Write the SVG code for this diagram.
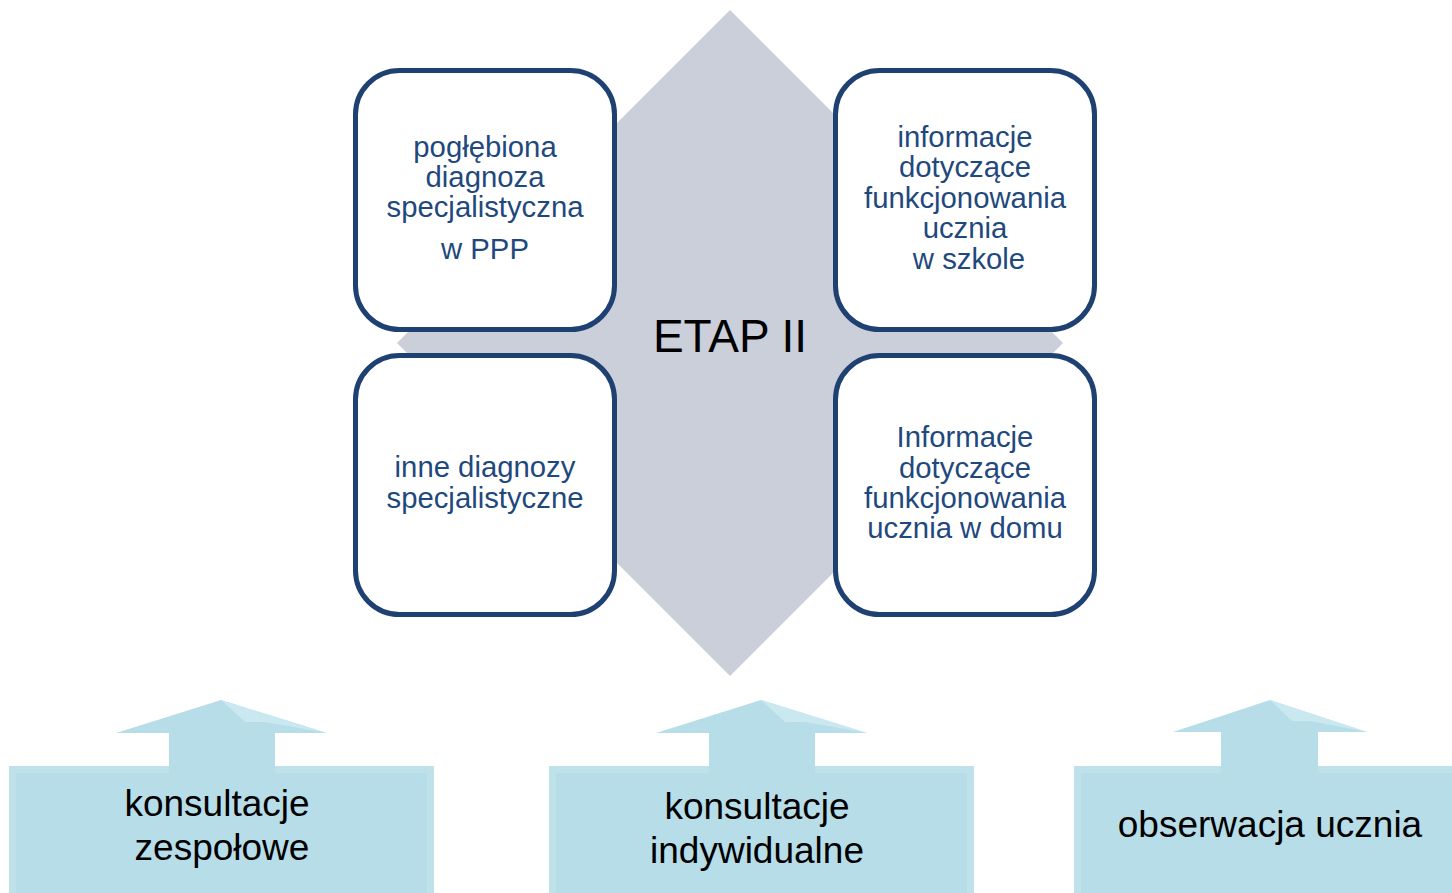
<svg xmlns="http://www.w3.org/2000/svg" width="1452" height="893" viewBox="0 0 1452 893">
<style>
.box{fill:#ffffff;stroke:#1f4172;stroke-width:5}
.bt{font-family:"Liberation Sans",Arial,sans-serif;font-size:29.3px;fill:#1f497d;text-anchor:middle}
.lt{font-family:"Liberation Sans",Arial,sans-serif;font-size:37px;fill:#000000;text-anchor:middle}
.arr{fill:#b7dde8}
.bev{fill:#bfe1ea}
.shine{fill:#c9e8f0}
</style>
<rect width="1452" height="893" fill="#ffffff"/>
<g id="etap">
<polygon points="730,10 1063,343 730,676 397,343" fill="#cbcfd9"/>
<text x="730" y="352" font-family="Liberation Sans, Arial, sans-serif" font-size="46" text-anchor="middle" fill="#000000">ETAP II</text>
</g>
<g id="n1">
<rect class="box" x="355.5" y="70.5" width="259" height="259" rx="44"/>
<text class="bt"><tspan x="485" y="157">pogłębiona</tspan><tspan x="485" y="187">diagnoza</tspan><tspan x="485" y="217">specjalistyczna</tspan><tspan x="485" y="259">w PPP</tspan></text>
</g>
<g id="n2">
<rect class="box" x="835.5" y="70.5" width="259" height="259" rx="44"/>
<text class="bt"><tspan x="965" y="147">informacje</tspan><tspan x="965" y="177">dotyczące</tspan><tspan x="965" y="208">funkcjonowania</tspan><tspan x="965" y="238">ucznia</tspan><tspan x="969" y="269">w szkole</tspan></text>
</g>
<g id="n3">
<rect class="box" x="355.5" y="355.5" width="259" height="259" rx="44"/>
<text class="bt"><tspan x="485" y="477">inne diagnozy</tspan><tspan x="485" y="508">specjalistyczne</tspan></text>
</g>
<g id="n4">
<rect class="box" x="835.5" y="355.5" width="259" height="259" rx="44"/>
<text class="bt"><tspan x="965" y="447">Informacje</tspan><tspan x="965" y="478">dotyczące</tspan><tspan x="965" y="508">funkcjonowania</tspan><tspan x="965" y="538">ucznia w domu</tspan></text>
</g>
<g id="a1">
<polygon class="arr" points="116,733 221,700 327,733 275,733 275,766 434,766 434,893 9,893 9,766 169,766 169,733"/>
<polygon class="shine" points="221,700 327,733 265,722 245,722"/>
<rect class="bev" x="9" y="766" width="425" height="7"/>
<rect class="bev" x="9" y="766" width="7" height="127"/>
<rect class="bev" x="427" y="766" width="7" height="127"/>
<rect class="arr" x="16" y="773" width="411" height="120"/>
<rect class="arr" x="169" y="733" width="106" height="45"/>
<text class="lt"><tspan x="217" y="816">konsultacje</tspan><tspan x="222" y="860">zespołowe</tspan></text>
</g>
<g id="a2">
<polygon class="arr" points="656,733 761,700 867,733 815,733 815,766 974,766 974,893 549,893 549,766 709,766 709,733"/>
<polygon class="shine" points="761,700 867,733 805,722 785,722"/>
<rect class="bev" x="549" y="766" width="425" height="7"/>
<rect class="bev" x="549" y="766" width="7" height="127"/>
<rect class="bev" x="967" y="766" width="7" height="127"/>
<rect class="arr" x="556" y="773" width="411" height="120"/>
<rect class="arr" x="709" y="733" width="106" height="45"/>
<text class="lt"><tspan x="757" y="819">konsultacje</tspan><tspan x="757" y="863">indywidualne</tspan></text>
</g>
<g id="a3">
<polygon class="arr" points="1173,732 1270,700 1367,732 1318,732 1318,766 1499,766 1499,893 1074,893 1074,766 1221,766 1221,732"/>
<polygon class="shine" points="1270,700 1367,732 1310,721 1292,721"/>
<rect class="bev" x="1074" y="766" width="425" height="7"/>
<rect class="bev" x="1074" y="766" width="7" height="127"/>
<rect class="arr" x="1081" y="773" width="418" height="120"/>
<rect class="arr" x="1221" y="732" width="97" height="46"/>
<text class="lt"><tspan x="1270" y="837">obserwacja ucznia</tspan></text>
</g>
<g id="connectors"></g>
</svg>
